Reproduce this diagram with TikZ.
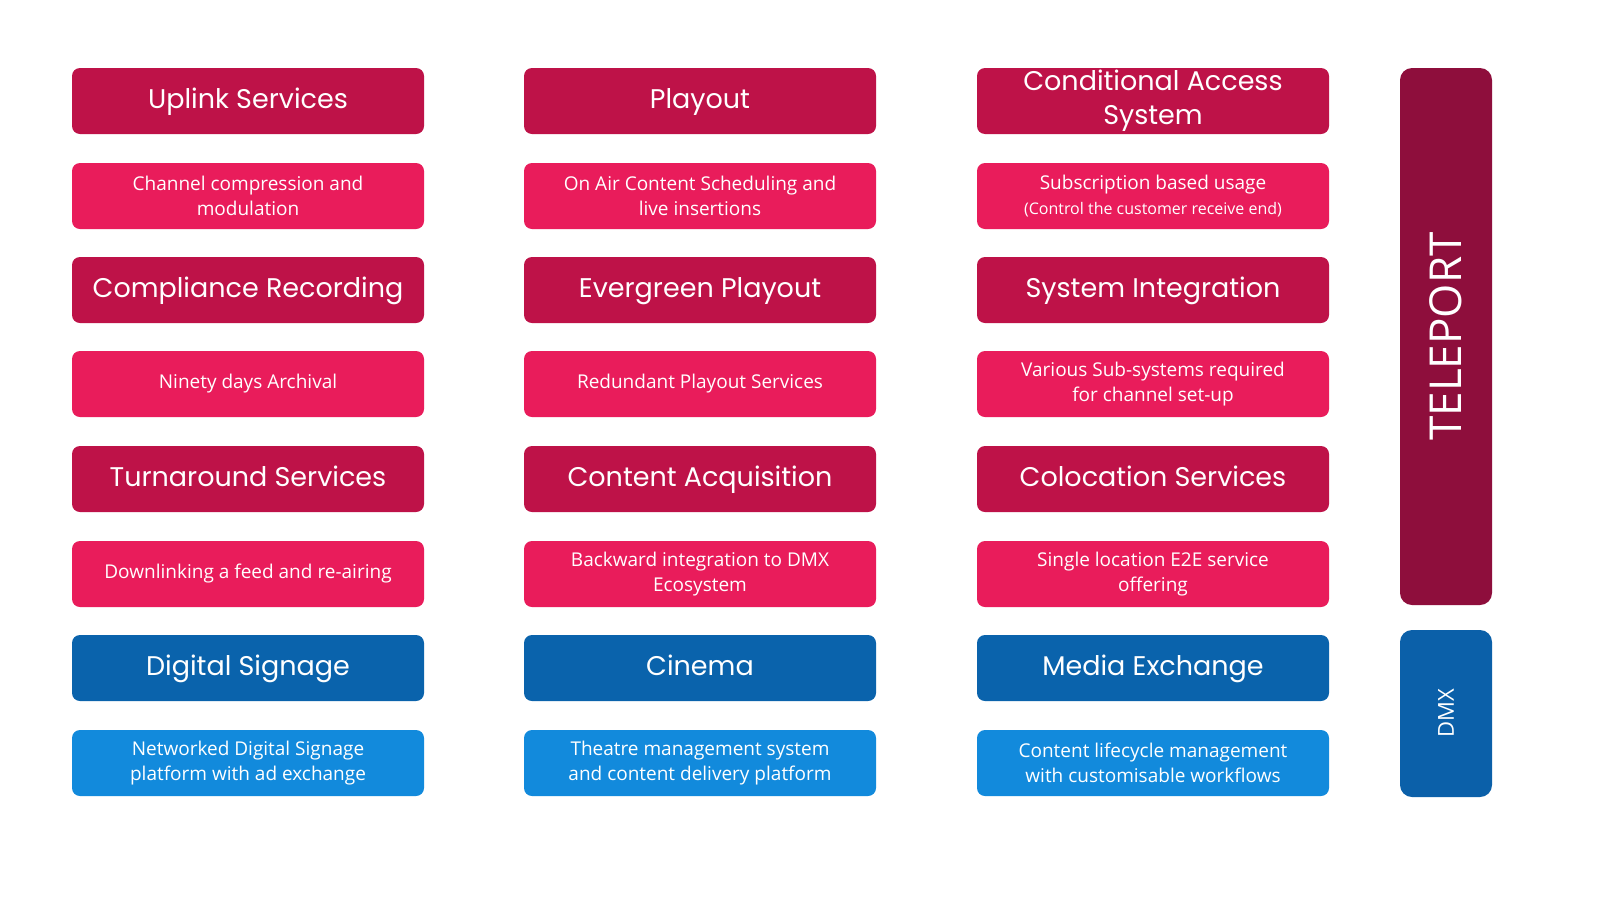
\documentclass[tikz,border=0pt]{standalone}
\usepackage{fontspec}
\setmainfont{Open Sans}
\newfontfamily\hfont{Poppins}
\definecolor{hdred}{HTML}{BE1248}
\definecolor{subred}{HTML}{E91C5B}
\definecolor{telep}{HTML}{8E0E3C}
\definecolor{hdblue}{HTML}{0A63AC}
\definecolor{subblue}{HTML}{128ADC}
\definecolor{dmxblue}{HTML}{0B60A9}
\begin{document}
\begin{tikzpicture}[x=1pt,y=-1pt,
 box/.style={rounded corners=8pt,minimum width=352pt,text=white,align=center,inner sep=0pt},
 hd/.style={box,fill=hdred,minimum height=66pt,font=\hfont\fontsize{27}{31}\selectfont},
 one/.style={text height=20pt,text depth=6pt},
 sub/.style={box,fill=subred,minimum height=66pt,font=\fontsize{19}{25}\selectfont},
 hdb/.style={hd,fill=hdblue},
 subb/.style={sub,fill=subblue}]
\useasboundingbox (0,0) rectangle (1600,900);
\fill[white] (0,0) rectangle (1600,900);
% column 1
\node[hd,one] (u1) at (248,101) {Uplink Services};
\node[sub] (u1s) at (248,196) {Channel compression and\\modulation};
\node[hd,one] (c1) at (248,290) {Compliance Recording};
\node[sub,one,text height=14pt,text depth=5pt] (c1s) at (248,384) {Ninety days Archival};
\node[hd,one] (t1) at (248,479) {Turnaround Services};
\node[sub,one,text height=14pt,text depth=5pt] (t1s) at (248,574) {Downlinking a feed and re-airing};
\node[hdb,one] (d1) at (248,668) {Digital Signage};
\node[subb] (d1s) at (248,763) {Networked Digital Signage\\platform with ad exchange};
% column 2
\node[hd,one] (u2) at (700,101) {Playout};
\node[sub] (u2s) at (700,196) {On Air Content Scheduling and\\live insertions};
\node[hd,one] (c2) at (700,290) {Evergreen Playout};
\node[sub,one,text height=14pt,text depth=5pt] (c2s) at (700,384) {Redundant Playout Services};
\node[hd,one] (t2) at (700,479) {Content Acquisition};
\node[sub] (t2s) at (700,574) {Backward integration to DMX\\Ecosystem};
\node[hdb,one] (d2) at (700,668) {Cinema};
\node[subb] (d2s) at (700,763) {Theatre management system\\and content delivery platform};
% column 3
\node[hd,font=\hfont\fontsize{27}{34}\selectfont] (u3) at (1153,101) {Conditional Access\\System};
\node[sub] (u3s) at (1153,196) {Subscription based usage\\{\fontsize{16}{22}\selectfont (Control the customer receive end)}};
\node[hd,one] (c3) at (1153,290) {System Integration};
\node[sub] (c3s) at (1153,384) {Various Sub-systems required\\for channel set-up};
\node[hd,one] (t3) at (1153,479) {Colocation Services};
\node[sub] (t3s) at (1153,574) {Single location E2E service\\offering};
\node[hdb,one] (d3) at (1153,668) {Media Exchange};
\node[subb] (d3s) at (1153,763) {Content lifecycle management\\with customisable workflows};
% right bars
\node[rounded corners=12pt,fill=telep,minimum width=92pt,minimum height=537pt,inner sep=0pt] (tel) at (1446,336.5) {};
\node[text=white,rotate=90,font=\fontsize{44}{50}\selectfont] (telt) at (tel.center) {TELEPORT};
\node[rounded corners=12pt,fill=dmxblue,minimum width=92pt,minimum height=167pt,inner sep=0pt] (dmx) at (1446,713.5) {};
\node[text=white,rotate=90,font=\fontsize{22}{26}\selectfont] (dmxt) at (dmx.center) {DMX};
\end{tikzpicture}
\end{document}
